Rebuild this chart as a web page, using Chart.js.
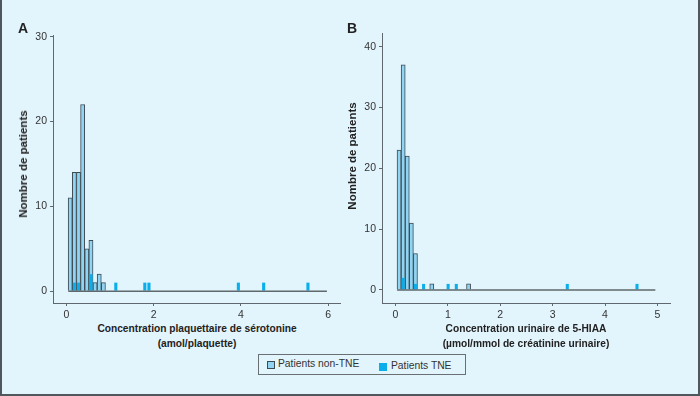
<!DOCTYPE html>
<html lang="fr">
<head>
<meta charset="utf-8">
<title>Histogrammes TNE</title>
<script src="https://cdn.jsdelivr.net/npm/chart.js@4.4.1/dist/chart.umd.min.js"></script>
<style>
  html, body { margin: 0; padding: 0; }
  body {
    width: 700px; height: 396px; position: relative; overflow: hidden;
    background: #e2f4fc; color: #222;
    font-family: "Liberation Sans", Arial, Helvetica, sans-serif;
  }
  canvas { position: absolute; top: 0; }
  #chartA { left: 0; }
  #chartB { left: 340px; }
  .panel {
    position: absolute; font-weight: bold; font-size: 14px; line-height: 14px;
    transform: translate(-50%, -50%);
  }
  .ytitle {
    position: absolute; font-weight: bold; font-size: 11.5px; line-height: 12px;
    white-space: nowrap; transform: translate(-50%, -50%) rotate(-90deg);
  }
  .xtitle {
    position: absolute; top: 321px; font-weight: bold; font-size: 10.2px; line-height: 15px;
    text-align: center; white-space: nowrap; transform: translateX(-50%);
  }
  #legend {
    position: absolute; left: 258px; top: 354px; width: 208px; height: 21px;
    box-sizing: border-box; border: 1px solid #6a6f73;
    font-size: 10.3px; color: #333;
  }
  #legend .sw { position: absolute; width: 8px; height: 8px; box-sizing: border-box; }
  #legend .lbl { position: absolute; line-height: 12px; white-space: nowrap; }
  #frame {
    position: absolute; left: 0; top: 0; width: 700px; height: 396px; box-sizing: border-box;
    border: 2px solid #50575c; border-top: none; pointer-events: none;
  }
</style>
</head>
<body>
<canvas id="chartA" width="350" height="320"></canvas>
<canvas id="chartB" width="360" height="320"></canvas>

<div class="panel" style="left:23px; top:28px;">A</div>
<div class="panel" style="left:352px; top:28px;">B</div>
<div class="ytitle" style="left:23px; top:164px;">Nombre de patients</div>
<div class="ytitle" style="left:352px; top:156px;">Nombre de patients</div>
<div class="xtitle" style="left:197px;">Concentration plaquettaire de sérotonine<br>(amol/plaquette)</div>
<div class="xtitle" style="left:526px;">Concentration urinaire de 5-HIAA<br>(µmol/mmol de créatinine urinaire)</div>

<div id="legend">
  <div class="sw" style="left:8px; top:6px; background:#8fd4f2; border:1px solid #3e4a52;"></div>
  <div class="lbl" style="left:19px; top:3px;">Patients non-TNE</div>
  <div class="sw" style="left:120px; top:8px; background:#0aaeeb;"></div>
  <div class="lbl" style="left:132px; top:5px;">Patients TNE</div>
</div>
<div id="frame"></div>

<script>
// Panel A : sérotonine plaquettaire
const xTicksA = [0, 2, 4, 6];
const yTicksA = [0, 10, 20, 30];
const binsA = [0.085, 0.180, 0.275, 0.370, 0.465, 0.560, 0.655, 0.750, 0.845];
const nonTneA = [11, 14, 14, 22, 5, 6, 1, 2, 1];
const tneBinsA = [0.180, 0.275, 0.560, 1.130, 1.795, 1.890, 3.940, 4.520, 5.535];
const tneA = [1, 1, 2, 1, 1, 1, 1, 1, 1];
const baseA = [0.04, 5.97];

// Panel B : 5-HIAA urinaire
const xTicksB = [0, 1, 2, 3, 4, 5];
const yTicksB = [0, 10, 20, 30, 40];
const binsB = [0.070, 0.148, 0.226, 0.304, 0.382, 0.694, 1.396];
const nonTneB = [23, 37, 22, 11, 6, 1, 1];
const tneBinsB = [0.148, 0.382, 0.538, 1.006, 1.162, 3.280, 4.610];
const tneB = [2, 1, 1, 1, 1, 1, 1];
const baseB = [0.031, 4.96];

const NON_TNE = "#8fd4f2";
const TNE = "#0aaeeb";
const EDGE = "#3e4a52";
const AXIS = "#5f686d";

Chart.defaults.font.family = '"Liberation Sans", Arial, sans-serif';
Chart.defaults.font.size = 10.5;
Chart.defaults.color = "#333";

function pairs(xs, ys) {
  return xs.map((x, i) => ({ x: x, y: ys[i] }));
}

function axis(min, max, ticks, fit) {
  return {
    type: "linear",
    min: min,
    max: max,
    offset: false,
    afterBuildTicks: (s) => { s.ticks = ticks.map((v) => ({ value: v })); },
    afterFit: fit,
    border: { display: true, color: AXIS, width: 1 },
    grid: { offset: false, drawOnChartArea: false, drawTicks: true, tickLength: 3, color: AXIS },
    ticks: { padding: 3, autoSkip: false, maxRotation: 0 },
  };
}

function drawHistogram(canvasId, p) {
  const ctx = document.getElementById(canvasId).getContext("2d");
  return new Chart(ctx, {
    type: "bar",
    data: {
      datasets: [
        {
          type: "line",
          data: p.base.map((x) => ({ x: x, y: 0 })),
          borderColor: AXIS, borderWidth: 1.5, pointRadius: 0, order: 0,
        },
        {
          label: "Patients TNE",
          data: pairs(p.tneBins, p.tne),
          backgroundColor: TNE, borderWidth: 0,
          grouped: false, barPercentage: 0.75, categoryPercentage: 1, order: 1,
        },
        {
          label: "Patients non-TNE",
          data: pairs(p.bins, p.nonTne),
          backgroundColor: NON_TNE, borderColor: EDGE, borderWidth: 1,
          grouped: false, barPercentage: 1, categoryPercentage: 1, order: 2,
        },
      ],
    },
    options: {
      responsive: false,
      animation: false,
      layout: { padding: { top: p.top, right: p.right, left: 0, bottom: 0 } },
      plugins: { legend: { display: false }, tooltip: { enabled: false } },
      scales: {
        x: axis(p.xMin, p.xMax, p.xTicks, (s) => { s.height = 17; }),
        y: axis(p.yMin, p.yMax, p.yTicks, (s) => { s.width = p.yWidth; }),
      },
    },
  });
}

drawHistogram("chartA", {
  bins: binsA, nonTne: nonTneA, tneBins: tneBinsA, tne: tneA, base: baseA,
  xTicks: xTicksA, yTicks: yTicksA,
  xMin: -0.31, xMax: 6.27, yMin: -1.4, yMax: 30.2,
  top: 35, right: 10, yWidth: 53,
});

drawHistogram("chartB", {
  bins: binsB, nonTne: nonTneB, tneBins: tneBinsB, tne: tneB, base: baseB,
  xTicks: xTicksB, yTicks: yTicksB,
  xMin: -0.256, xMax: 5.24, yMin: -2.14, yMax: 42.25,
  top: 33, right: 30, yWidth: 42,
});
</script>
</body>
</html>
